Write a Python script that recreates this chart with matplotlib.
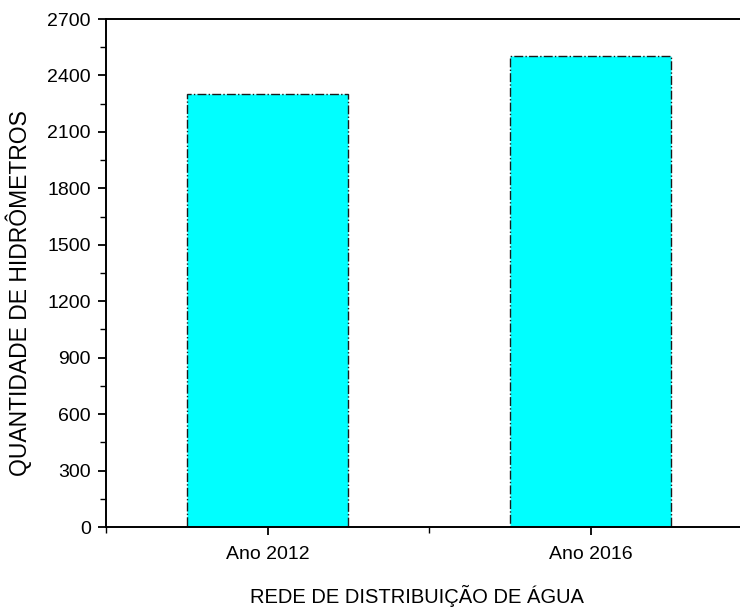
import matplotlib
matplotlib.use('Agg')
import matplotlib.pyplot as plt
from matplotlib.ticker import MultipleLocator

plt.rcParams['font.family'] = ['Liberation Sans', 'DejaVu Sans']

# number of water meters per year
anos = ['Ano 2012', 'Ano 2016']
hidrometros = [2300, 2505]

fig = plt.figure(figsize=(7.40, 6.07), dpi=100)
# the frame is wider than the canvas, so the right side is cut off
ax = fig.add_axes([106 / 740, 1 - 527 / 607, 646 / 740, 508 / 607])

xx = list(range(1, len(anos) + 1))
ax.bar(xx, hidrometros, width=0.5, color='#00FFFF',
       edgecolor='#1a1a1a', linewidth=1.0, linestyle='-.')

ax.set_xlim(0.5, 2.5)
ax.set_ylim(0, 2700)
ax.set_xticks(xx)
ax.set_xticklabels(anos)
ax.xaxis.set_minor_locator(MultipleLocator(0.5))
ax.yaxis.set_major_locator(MultipleLocator(300))
ax.yaxis.set_minor_locator(MultipleLocator(150))

ax.tick_params(axis='both', which='major', direction='out', length=6, width=1.3,
               labelsize=14)
ax.tick_params(axis='both', which='minor', direction='out', length=4, width=1.0)
ax.tick_params(axis='x', which='major', pad=8)
ax.tick_params(axis='y', which='major', pad=5)

for side in ax.spines.values():
    side.set_linewidth(1.4)

ax.set_xlabel('REDE DE DISTRIBUIÇÃO DE ÁGUA', fontsize=14.5)
ax.set_ylabel('QUANTIDADE DE HIDRÔMETROS', fontsize=16.5)
ax.xaxis.set_label_coords((416.5 - 106) / 646, -0.114)
ax.yaxis.set_label_coords(-(106 - 32) / 646, (527 - 293.5) / 508)

fig.savefig('out.png', dpi=100)
